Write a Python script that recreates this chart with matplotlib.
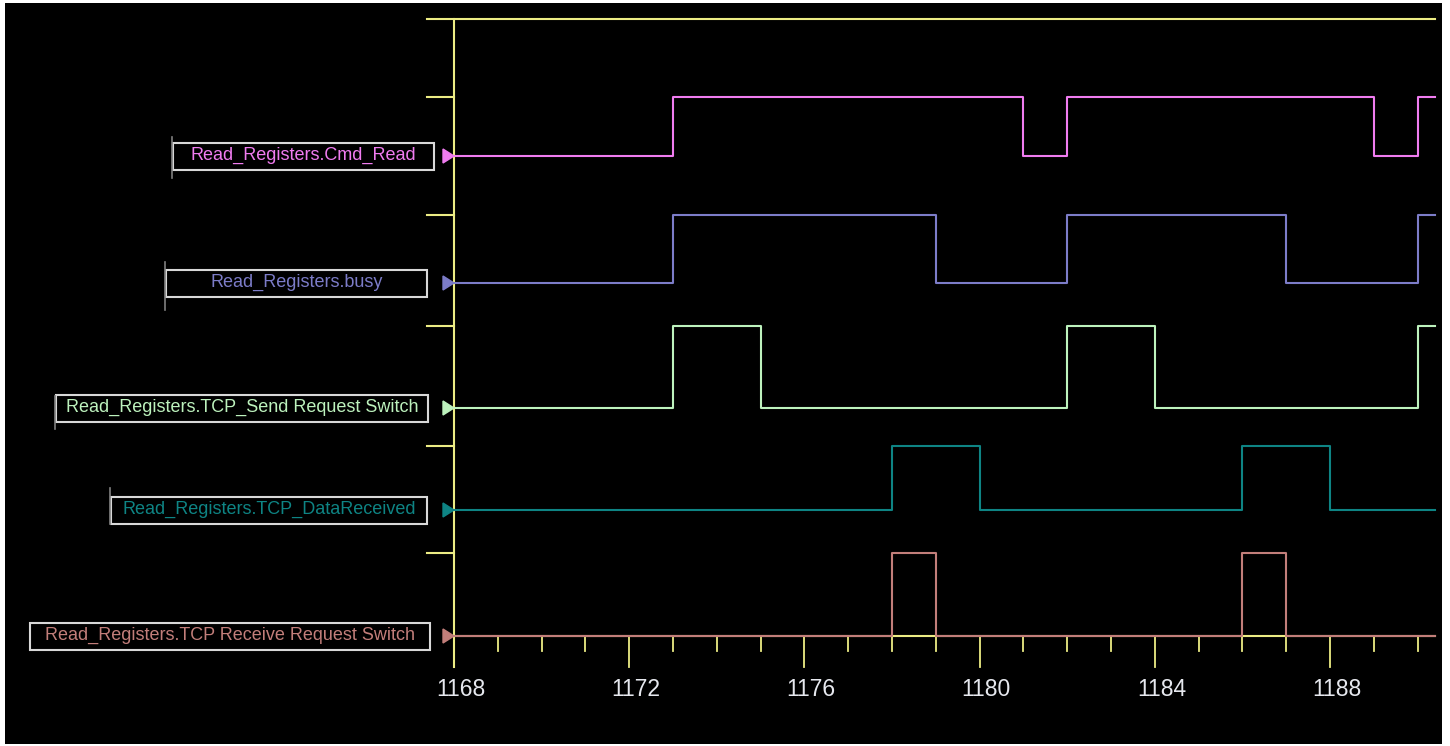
import matplotlib
matplotlib.use('Agg')
import matplotlib.pyplot as plt
from matplotlib.patches import Rectangle, Polygon

# data: signal state at each time step (1168 .. 1190)
times = list(range(1168, 1191))
t_end = 1190.4

names = ['Read_Registers.Cmd_Read',
         'Read_Registers.busy',
         'Read_Registers.TCP_Send Request Switch',
         'Read_Registers.TCP_DataReceived',
         'Read_Registers.TCP Receive Request Switch']

cmd_read  = [0, 0, 0, 0, 0, 1, 1, 1, 1, 1, 1, 1, 1, 0, 1, 1, 1, 1, 1, 1, 1, 0, 1]
busy      = [0, 0, 0, 0, 0, 1, 1, 1, 1, 1, 1, 0, 0, 0, 1, 1, 1, 1, 1, 0, 0, 0, 1]
send_sw   = [0, 0, 0, 0, 0, 1, 1, 0, 0, 0, 0, 0, 0, 0, 1, 1, 0, 0, 0, 0, 0, 0, 1]
data_recv = [0, 0, 0, 0, 0, 0, 0, 0, 0, 0, 1, 1, 0, 0, 0, 0, 0, 0, 1, 1, 0, 0, 0]
recv_sw   = [0, 0, 0, 0, 0, 0, 0, 0, 0, 0, 1, 0, 0, 0, 0, 0, 0, 0, 1, 0, 0, 0, 0]
signals = [cmd_read, busy, send_sw, data_recv, recv_sw]

major_ticks = [1168, 1172, 1176, 1180, 1184, 1188]

# layout (pixel rows of the screen, y grows downward)
colors = ['#F07CF0', '#7C7CC8', '#BDF2BD', '#0E8484', '#C27E7A']
lane_low = [156, 283, 408, 510, 636]
lane_high = [97, 215, 326, 446, 553]
box_left = [173, 166, 56, 111, 30]
box_right = [434, 427, 428, 427, 430]
stub_len = [(137, 178), (262, 310), (396, 429), (488, 524), None]
yellow = '#ECEC84'

W, H = 1450, 746
X0, PX = 454, 43.8          # pixel of t=1168, pixels per time unit
L, R, T, B = 5, 1442, 3, 744


def tx(px):
    return 1168 + (px - X0) / PX


fig = plt.figure(figsize=(W / 100, H / 100), dpi=100, facecolor='white')
ax = fig.add_axes([L / W, (H - B) / H, (R - L) / W, (B - T) / H])
ax.set_facecolor('black')
ax.set_xlim(tx(L), tx(R))
ax.set_ylim(B, T)
ax.axis('off')
ax.add_patch(Rectangle((tx(L), T), tx(R) - tx(L), B - T, color='black', zorder=0))

# yellow frame: top line, vertical axis, lane stubs, bottom axis
ax.plot([tx(427), t_end], [19, 19], color=yellow, lw=1.5, zorder=2)
ax.plot([1168, 1168], [19, 667], color=yellow, lw=1.5, zorder=2)
for yh in lane_high:
    ax.plot([tx(427), 1168], [yh, yh], color=yellow, lw=1.5, zorder=2)
ax.plot([1168, t_end], [636, 636], color=yellow, lw=1.5, zorder=2)
for t in times:
    bottom = 667 if t in major_ticks else 651
    ax.plot([t, t], [636, bottom], color=yellow, lw=1.3, zorder=2)
for t in major_ticks:
    ax.text(t + 0.15, 690, str(t), color='#E6E8EE', fontsize=16.5,
            family='Liberation Sans', ha='center', va='center')

# traces
for sig, lo, hi, c in zip(signals, lane_low, lane_high, colors):
    ys = [lo + (hi - lo) * v for v in sig] + [lo + (hi - lo) * sig[-1]]
    ax.step(times + [t_end], ys, where='post', color=c, lw=1.5, zorder=3)

# label boxes and markers
for name, lo, c, bl, br, st in zip(names, lane_low, colors, box_left, box_right, stub_len):
    ax.add_patch(Rectangle((tx(bl), lo - 13.5), tx(br) - tx(bl), 27, fill=False,
                           edgecolor='#D8D8D8', lw=1.5, zorder=4))
    ax.text(tx((bl + br) / 2), lo - 0.5, name, color=c, fontsize=13,
            family='Liberation Sans', ha='center', va='center', zorder=5)
    if st is not None:
        ax.plot([tx(bl - 1), tx(bl - 1)], list(st), color='#808080', lw=1.2, zorder=4)
    ax.add_patch(Polygon([[tx(443), lo - 7], [tx(443), lo + 7], [tx(454), lo]],
                         closed=True, color=c, zorder=5))

fig.savefig('out.png', dpi=100, facecolor='white')
